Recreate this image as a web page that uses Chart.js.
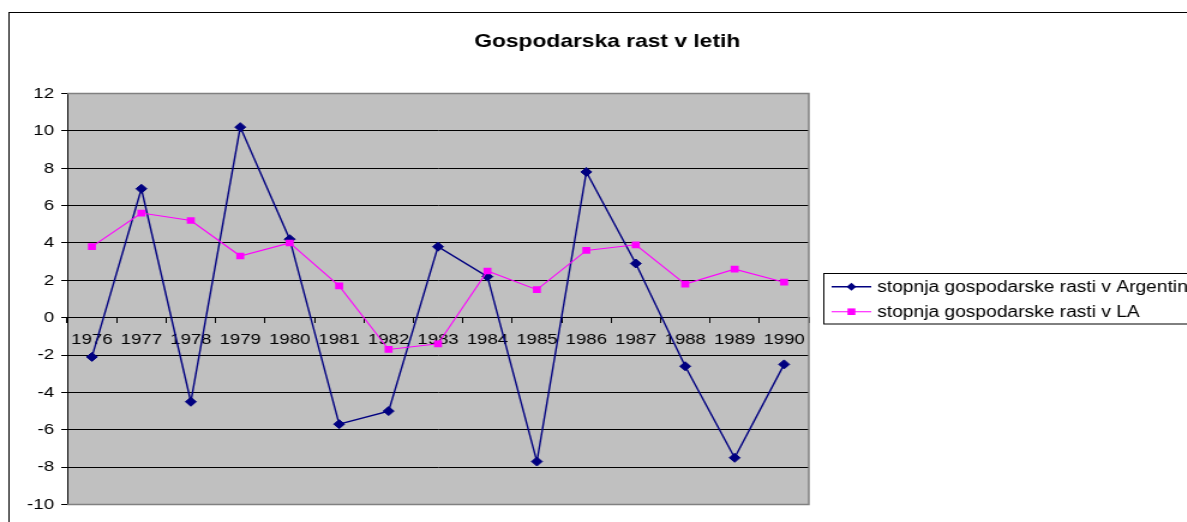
<!DOCTYPE html>
<html>
<head>
<meta charset="utf-8">
<script src="https://cdn.jsdelivr.net/npm/chart.js@4"></script>
<style>
  html, body { margin: 0; padding: 0; background: #fff; overflow: hidden; }
  #wrap { width: 989px; height: 522px; transform: scaleX(1.2); transform-origin: 0 0; }
</style>
</head>
<body>
<div id="wrap"><canvas id="chart" width="989" height="522"></canvas></div>
<script>
const years = ['1976', '1977', '1978', '1979', '1980', '1981', '1982', '1983',
               '1984', '1985', '1986', '1987', '1988', '1989', '1990'];
const argentina = [-2.1, 6.9, -4.5, 10.2, 4.2, -5.7, -5.0, 3.8, 2.2, -7.7, 7.8, 2.9, -2.6, -7.5, -2.5];
const latinAmerica = [3.8, 5.6, 5.2, 3.3, 4.0, 1.7, -1.7, -1.4, 2.5, 1.5, 3.6, 3.9, 1.8, 2.6, 1.9];
const chartTitle = 'Gospodarska rast v letih';
const seriesNames = ['stopnja gospodarske rasti v Argentini', 'stopnja gospodarske rasti v LA'];

const FONT = '"Liberation Sans", Arial, sans-serif';

// frame, grey plot background, title and the boxed legend like Excel draws them
const excelLook = {
    id: 'excelLook',
    beforeDraw(chart) {
        const { ctx, chartArea: a } = chart;
        ctx.save();
        ctx.fillStyle = '#fff';
        ctx.fillRect(0, 0, chart.width, chart.height);
        ctx.strokeStyle = '#000';
        ctx.lineWidth = 1;
        ctx.strokeRect(7.5, 12.5, chart.width + 20, chart.height + 20);
        ctx.fillStyle = '#c0c0c0';
        ctx.fillRect(a.left, a.top, a.right - a.left, a.bottom - a.top);
        ctx.restore();
    },
    beforeDatasetsDraw(chart) {
        const { ctx, chartArea: a } = chart;
        ctx.save();
        ctx.strokeStyle = '#808080';
        ctx.lineWidth = 1.5;
        ctx.beginPath();
        ctx.moveTo(a.left, a.top);
        ctx.lineTo(a.right, a.top);
        ctx.lineTo(a.right, a.bottom);
        ctx.lineTo(a.left, a.bottom);
        ctx.stroke();
        ctx.restore();
    },
    afterDraw(chart) {
        const ctx = chart.ctx;
        ctx.save();
        ctx.fillStyle = '#000';
        ctx.font = 'bold 19px ' + FONT;
        ctx.textAlign = 'center';
        ctx.textBaseline = 'middle';
        ctx.fillText(chartTitle, 506, 42);

        // legend
        ctx.strokeStyle = '#000';
        ctx.lineWidth = 1;
        ctx.strokeRect(686.5, 273.5, 400, 50.5);
        ctx.font = '16px ' + FONT;
        ctx.textAlign = 'left';
        const rows = [286.7, 311.7];
        chart.data.datasets.forEach((ds, i) => {
            const y = rows[i];
            ctx.strokeStyle = ds.borderColor;
            ctx.lineWidth = ds.borderWidth;
            ctx.beginPath();
            ctx.moveTo(693, y);
            ctx.lineTo(726, y);
            ctx.stroke();
            ctx.fillStyle = ds.pointBackgroundColor;
            ctx.beginPath();
            if (ds.pointStyle === 'rectRot') {
                const r = 4;
                ctx.moveTo(709.5 - r, y);
                ctx.lineTo(709.5, y - r);
                ctx.lineTo(709.5 + r, y);
                ctx.lineTo(709.5, y + r);
                ctx.closePath();
            } else {
                ctx.rect(709.5 - 3.3, y - 3.3, 6.6, 6.6);
            }
            ctx.fill();
            ctx.fillStyle = '#000';
            ctx.fillText(ds.label, 731, y + 1);
        });
        ctx.restore();
    }
};

new Chart(document.getElementById('chart'), {
    type: 'line',
    data: {
        labels: years,
        datasets: [{
            label: seriesNames[0],
            data: argentina,
            borderColor: '#000080',
            backgroundColor: '#000080',
            pointBackgroundColor: '#000080',
            pointBorderColor: '#000080',
            borderWidth: 1.4,
            pointStyle: 'rectRot',
            pointRadius: 4.5,
            pointBorderWidth: 1,
            tension: 0,
            order: 1
        }, {
            label: seriesNames[1],
            data: latinAmerica,
            borderColor: '#ff00ff',
            backgroundColor: '#ff00ff',
            pointBackgroundColor: '#ff00ff',
            pointBorderColor: '#ff00ff',
            borderWidth: 1.1,
            pointStyle: 'rect',
            pointRadius: 4.7,
            pointBorderWidth: 0,
            tension: 0,
            order: 0
        }]
    },
    options: {
        responsive: false,
        animation: false,
        devicePixelRatio: 1,
        layout: {
            padding: { left: 0, top: 93.5, right: 315, bottom: 17.5 }
        },
        plugins: {
            legend: { display: false },
            title: { display: false },
            tooltip: { enabled: false }
        },
        scales: {
            x: {
                position: { y: 0 },
                offset: true,
                grid: {
                    offset: true,
                    drawOnChartArea: false,
                    drawTicks: true,
                    tickLength: 5,
                    tickColor: '#000'
                },
                border: { display: true, color: '#000', width: 1 },
                ticks: {
                    color: '#000',
                    font: { family: FONT, size: 15.5 },
                    padding: 8,
                    maxRotation: 0,
                    autoSkip: false
                }
            },
            y: {
                min: -10,
                max: 12,
                afterFit: scale => { scale.width = 56; },
                grid: {
                    color: '#000',
                    lineWidth: 1,
                    drawTicks: true,
                    tickLength: 5,
                    tickColor: '#000'
                },
                border: { display: true, color: '#000', width: 1 },
                ticks: {
                    stepSize: 2,
                    color: '#000',
                    font: { family: FONT, size: 15.5 },
                    padding: 6
                }
            }
        }
    },
    plugins: [excelLook]
});
</script>
</body>
</html>
